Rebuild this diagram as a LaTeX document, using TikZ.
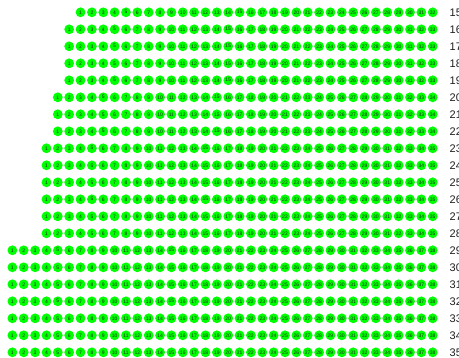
\documentclass[tikz,border=0pt]{standalone}
\usepackage{fontspec}
\setmainfont{Liberation Sans}
\definecolor{seatgreen}{RGB}{0,255,0}
\definecolor{labtext}{RGB}{30,30,30}
\begin{document}
\begin{tikzpicture}[x=1pt,y=-1pt,
  seat/.style={circle,fill=seatgreen,inner sep=0pt,minimum size=9.8pt,
    font=\fontsize{5}{5}\selectfont,text=black!85},
  rowlab/.style={anchor=west,inner sep=0pt,
    font=\fontsize{11}{13}\selectfont,text=labtext}]
\useasboundingbox (0,0) rectangle (459,357);
\foreach \r/\n in {15/32,16/33,17/33,18/33,19/33,20/34,21/34,22/34,
                   23/35,24/35,25/35,26/35,27/35,28/35,
                   29/38,30/38,31/38,32/38,33/38,34/38,35/38}{
  \pgfmathsetmacro{\yy}{12.3+(\r-15)*17}
  \foreach \k in {1,...,\n}{
    \node[seat] (s-\r-\k) at ({432.7-(\n-\k)*11.36},\yy) {\k};
  }
  \node[rowlab] (lab-\r) at (449.5,\yy) {\r};
}
\end{tikzpicture}
\end{document}
